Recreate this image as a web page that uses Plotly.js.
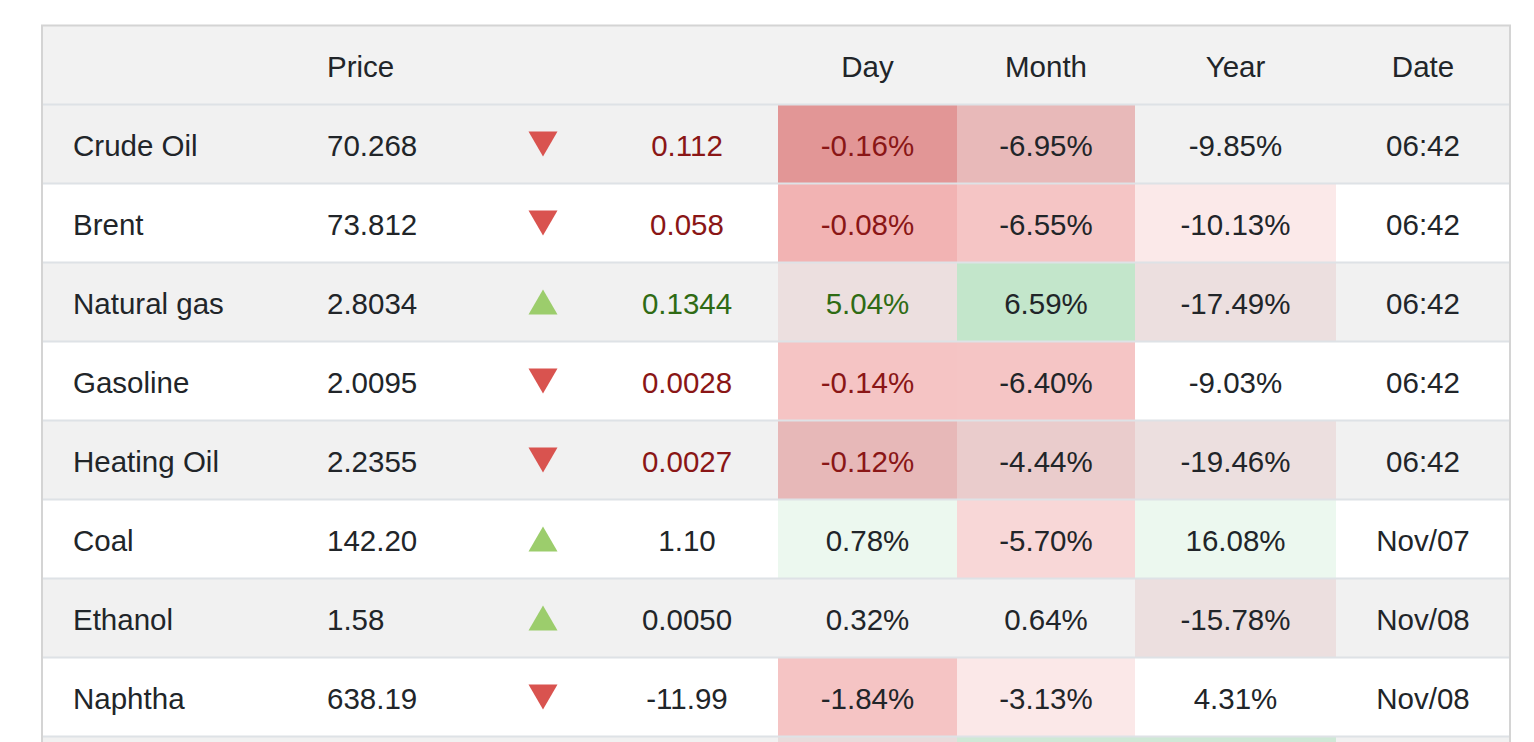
<!DOCTYPE html>
<html>
<head>
<meta charset="utf-8">
<script src="https://cdn.plot.ly/plotly-3.0.1.min.js"></script>
<style>
  html, body { margin: 0; padding: 0; background: #ffffff; }
  #chart { width: 1534px; height: 742px; }
</style>
</head>
<body>
<div id="chart"></div>
<script>
// ---------------- data ----------------
const headers   = ['', 'Price', '', '', 'Day', 'Month', 'Year', 'Date'];
const names     = ['Crude Oil', 'Brent', 'Natural gas', 'Gasoline', 'Heating Oil', 'Coal', 'Ethanol', 'Naphtha'];
const prices    = ['70.268', '73.812', '2.8034', '2.0095', '2.2355', '142.20', '1.58', '638.19'];
const changes   = ['0.112', '0.058', '0.1344', '0.0028', '0.0027', '1.10', '0.0050', '-11.99'];
const direction = ['down', 'down', 'up', 'down', 'down', 'up', 'up', 'down'];
const dayPct    = ['-0.16%', '-0.08%', '5.04%', '-0.14%', '-0.12%', '0.78%', '0.32%', '-1.84%'];
const monthPct  = ['-6.95%', '-6.55%', '6.59%', '-6.40%', '-4.44%', '-5.70%', '0.64%', '-3.13%'];
const yearPct   = ['-9.85%', '-10.13%', '-17.49%', '-9.03%', '-19.46%', '16.08%', '-15.78%', '4.31%'];
const dates     = ['06:42', '06:42', '06:42', '06:42', '06:42', 'Nov/07', 'Nov/08', 'Nov/08'];
// colouring of the change / day text: neg = red, pos = green, none = default
const changeTone = ['neg', 'neg', 'pos', 'neg', 'neg', 'none', 'none', 'none'];
// heat fills of the Day / Month / Year cells (9th entry = next, cut-off row)
const dayFill   = ['#e29696', '#f2b3b3', '#ecdfdf', '#f5c4c4', '#e7b8b8', '#ecf8ef', null, '#f5c4c4', '#e8dcdc'];
const monthFill = ['#e8b9b9', '#f5c5c5', '#c3e6cb', '#f5c5c5', '#eacccc', '#f8d7d7', null, '#fbe8e8', '#cfe8d6'];
const yearFill  = [null, '#fbe9e9', '#ecdfdf', null, '#ecdfdf', '#ecf8ef', '#ecdfdf', null, '#cfe8d6'];

// ---------------- layout config ----------------
const W = 1534, H = 742;
const ROW_PX = 79, HEADER_CENTER_PX = 65;
const TEXT_DY = 5 / ROW_PX;          // text sits slightly below the row centre
const TABLE_L = 42, TABLE_R = 1510;
const COL = {
  name:   { x: 73,  anchor: 'left' },
  price:  { x: 327, anchor: 'left' },
  arrow:  { x: 543 },
  change: { x: 687 },
  day:    { x0: 778,  x1: 957 },
  month:  { x0: 957,  x1: 1135 },
  year:   { x0: 1135, x1: 1336 },
  date:   { x0: 1336, x1: 1510 }
};
const FONT = 'Liberation Sans, Arial, Helvetica, sans-serif';
const FS = 29.5;
const TXT = '#212529', RED_TXT = '#8a1616', GREEN_TXT = '#2f6b14';
const ROW_GRAY = '#f1f1f1', HEAD_GRAY = '#f2f2f2';
const LINE = '#dee2e6', BORDER = '#d4d4d4';
const TRI_RED = '#d9534f', TRI_GREEN = '#9ccd6c';
const TRI_W = 29, TRI_H = 25;

const nRows = names.length;
const totalRows = nRows + 1; // incl. cut-off row
const rowsIdx = names.map((_, i) => i + 1);
const textRows = rowsIdx.map(r => r + TEXT_DY);
const mid = c => (c.x0 + c.x1) / 2;

// ---------------- shapes ----------------
const shapes = [];
// row backgrounds
for (let r = 0; r <= totalRows; r++) {
  const gray = (r === 0) || (r % 2 === 1);
  shapes.push({ type: 'rect', xref: 'x', yref: 'y', layer: 'below',
    x0: TABLE_L, x1: TABLE_R, y0: r - 0.5, y1: r + 0.5,
    fillcolor: r === 0 ? HEAD_GRAY : (gray ? ROW_GRAY : '#ffffff'), line: { width: 0 } });
}
// heat cells
[[dayFill, COL.day], [monthFill, COL.month], [yearFill, COL.year]].forEach(([fills, c]) => {
  fills.forEach((f, i) => {
    if (!f) return;
    const r = i + 1;
    shapes.push({ type: 'rect', xref: 'x', yref: 'y', layer: 'below',
      x0: c.x0, x1: c.x1, y0: r - 0.5, y1: r + 0.5, fillcolor: f, line: { width: 0 } });
  });
});
// row separators
for (let r = 0; r < totalRows; r++) {
  shapes.push({ type: 'line', xref: 'x', yref: 'y', x0: TABLE_L, x1: TABLE_R, y0: r + 0.5, y1: r + 0.5,
    line: { color: LINE, width: 2 } });
}
// triangles
const triHalfY = (TRI_H / 2) / ROW_PX;
direction.forEach((d, i) => {
  const r = i + 1, cx = COL.arrow.x, hw = TRI_W / 2;
  let path;
  if (d === 'down') {
    path = `M ${cx - hw},${r - triHalfY} L ${cx + hw},${r - triHalfY} L ${cx},${r + triHalfY} Z`;
  } else {
    path = `M ${cx - hw},${r + triHalfY} L ${cx + hw},${r + triHalfY} L ${cx},${r - triHalfY} Z`;
  }
  shapes.push({ type: 'path', xref: 'x', yref: 'y', path: path,
    fillcolor: d === 'down' ? TRI_RED : TRI_GREEN, line: { width: 0 } });
});
// outer border (left, top, right)
const yTop = -0.5, yBot = (H - HEADER_CENTER_PX) / ROW_PX + 1;
shapes.push({ type: 'line', xref: 'x', yref: 'y', x0: TABLE_L, x1: TABLE_L, y0: yTop, y1: yBot, line: { color: BORDER, width: 2 } });
shapes.push({ type: 'line', xref: 'x', yref: 'y', x0: TABLE_R, x1: TABLE_R, y0: yTop, y1: yBot, line: { color: BORDER, width: 2 } });
shapes.push({ type: 'line', xref: 'x', yref: 'y', x0: TABLE_L - 1, x1: TABLE_R + 1, y0: yTop, y1: yTop, line: { color: BORDER, width: 2 } });

// ---------------- text traces ----------------
const toneColor = t => t === 'neg' ? RED_TXT : (t === 'pos' ? GREEN_TXT : TXT);
function textTrace(xs, ys, texts, pos, colors) {
  return { type: 'scatter', mode: 'text', x: xs, y: ys, text: texts,
    textposition: pos, hoverinfo: 'skip', showlegend: false, cliponaxis: false,
    textfont: { family: FONT, size: FS, color: colors || TXT } };
}
const rep = (v) => names.map(() => v);
const headerX = [COL.name.x, COL.price.x, COL.arrow.x, COL.change.x, mid(COL.day), mid(COL.month), mid(COL.year), mid(COL.date)];
const headerPos = ['middle right', 'middle right', 'middle center', 'middle center', 'middle center', 'middle center', 'middle center', 'middle center'];

const traces = [
  textTrace(headerX, headers.map(() => TEXT_DY), headers, headerPos),
  textTrace(rep(COL.name.x), textRows, names, 'middle right'),
  textTrace(rep(COL.price.x), textRows, prices, 'middle right'),
  textTrace(rep(COL.change.x), textRows, changes, 'middle center', changeTone.map(toneColor)),
  textTrace(rep(mid(COL.day)), textRows, dayPct, 'middle center', changeTone.map(toneColor)),
  textTrace(rep(mid(COL.month)), textRows, monthPct, 'middle center'),
  textTrace(rep(mid(COL.year)), textRows, yearPct, 'middle center'),
  textTrace(rep(mid(COL.date)), textRows, dates, 'middle center')
];

const layout = {
  width: W, height: H,
  margin: { l: 0, r: 0, t: 0, b: 0, pad: 0 },
  paper_bgcolor: '#ffffff', plot_bgcolor: '#ffffff',
  showlegend: false,
  xaxis: { range: [0, W], visible: false, fixedrange: true },
  yaxis: { range: [(H - HEADER_CENTER_PX) / ROW_PX, -HEADER_CENTER_PX / ROW_PX], visible: false, fixedrange: true },
  shapes: shapes,
  font: { family: FONT, color: TXT }
};

Plotly.newPlot('chart', traces, layout, { displayModeBar: false, staticPlot: true });
</script>
</body>
</html>
